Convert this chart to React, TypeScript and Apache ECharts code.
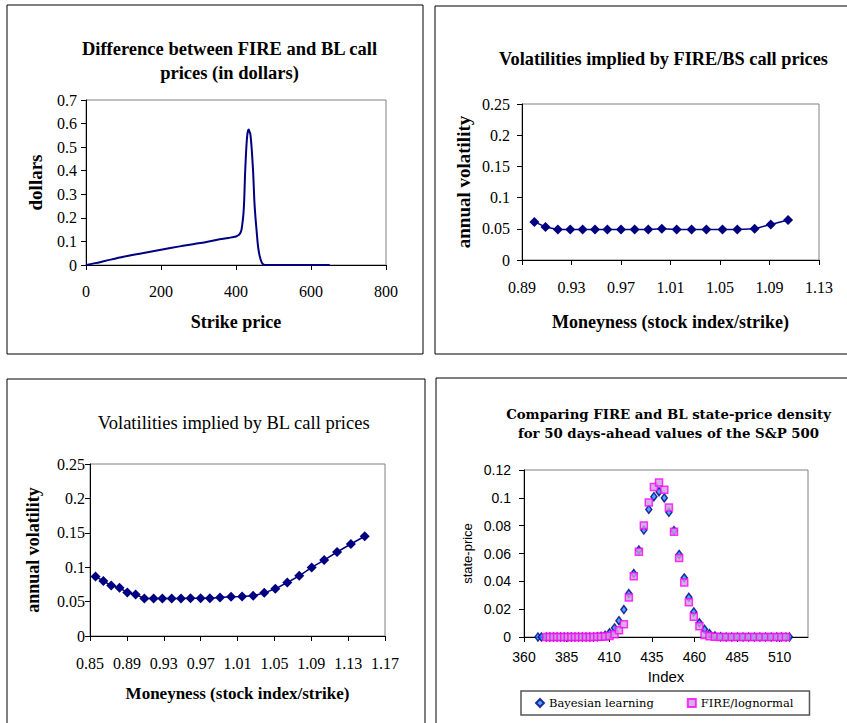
import React, { useEffect, useRef } from "react";
import * as echarts from "echarts";

// Panel 1: difference between FIRE and BL call prices
const strike1 = [0, 25, 50, 100, 150, 200, 250, 300, 350, 380, 400, 405, 410, 414, 417, 420, 422, 424, 426, 428, 430, 432, 434, 436, 438, 440, 442, 444, 446, 449, 452, 455, 458, 461, 464, 467, 470, 474, 478, 500, 550, 600, 650];
const diff1 = [0, 0.008, 0.017, 0.035, 0.05, 0.065, 0.079, 0.092, 0.107, 0.115, 0.121, 0.125, 0.132, 0.145, 0.175, 0.22, 0.28, 0.38, 0.45, 0.51, 0.55, 0.57, 0.575, 0.565, 0.558, 0.53, 0.49, 0.44, 0.385, 0.27, 0.2, 0.145, 0.09, 0.055, 0.033, 0.017, 0.007, 0.002, 0, 0, 0, 0, 0];

// Panel 2: volatilities implied by FIRE/BS call prices
const money2 = [0.9, 0.909, 0.919, 0.929, 0.939, 0.949, 0.959, 0.97, 0.981, 0.992, 1.003, 1.015, 1.027, 1.039, 1.052, 1.064, 1.078, 1.091, 1.105];
const vol2 = [0.061, 0.053, 0.049, 0.049, 0.049, 0.049, 0.049, 0.049, 0.049, 0.049, 0.05, 0.049, 0.049, 0.049, 0.049, 0.049, 0.05, 0.057, 0.064];
const xTicks2 = [0.89, 0.93, 0.97, 1.01, 1.05, 1.09, 1.13];

// Panel 3: volatilities implied by BL call prices
const money3 = [0.856, 0.8645, 0.873, 0.882, 0.8905, 0.8995, 0.909, 0.919, 0.9285, 0.9386, 0.9487, 0.959, 0.97, 0.98, 0.991, 1.003, 1.015, 1.027, 1.039, 1.051, 1.064, 1.077, 1.0905, 1.104, 1.118, 1.133, 1.148];
const vol3 = [0.0866, 0.0798, 0.0734, 0.07, 0.0632, 0.0603, 0.0545, 0.0545, 0.0545, 0.0545, 0.0545, 0.055, 0.055, 0.055, 0.056, 0.0569, 0.0574, 0.0584, 0.0627, 0.0686, 0.0778, 0.0875, 0.0997, 0.1104, 0.1221, 0.1337, 0.145];
const xTicks3 = [0.85, 0.89, 0.93, 0.97, 1.01, 1.05, 1.09, 1.13, 1.17];

// Panel 4: state-price densities
const idxFIRE = [373.1, 375.2, 377.3, 379.4, 381.5, 383.6, 385.7, 387.8, 389.9, 392.0, 394.2, 396.4, 398.6, 400.8, 403.0, 405.2, 407.6, 410.2, 413.1, 415.7, 418.6, 421.5, 424.4, 427.4, 430.3, 433.2, 436.2, 439.2, 442.3, 445.0, 448.0, 451.0, 454.0, 456.7, 459.6, 462.9, 465.9, 468.8, 472.0, 475.3, 478.6, 481.9, 485.2, 488.5, 491.8, 495.1, 498.4, 501.7, 505.0, 508.3, 511.0, 513.7];
const spdFIRE = [0, 0, 0, 0, 0, 0, 0, 0, 0, 0, 0, 0, 0, 0, 0.0001, 0.0002, 0.0004, 0.0008, 0.0019, 0.0048, 0.0091, 0.0284, 0.0437, 0.0613, 0.0802, 0.0966, 0.1078, 0.1111, 0.1058, 0.093, 0.0757, 0.0568, 0.0391, 0.025, 0.0146, 0.0077, 0.0015, 0.0006, 0.0002, 0, 0, 0, 0, 0, 0, 0, 0, 0, 0, 0, 0, 0];
const idxBL = [368.2, 370.2, 373.1, 375.2, 377.3, 379.4, 381.5, 383.6, 385.7, 387.8, 389.9, 392.0, 394.2, 396.4, 398.6, 400.8, 403.0, 405.2, 407.6, 410.2, 413.1, 415.7, 418.6, 421.5, 424.4, 427.4, 430.3, 433.2, 436.2, 439.2, 442.3, 445.0, 448.0, 451.0, 454.0, 456.7, 459.6, 462.9, 465.9, 468.8, 472.0, 475.3, 478.6, 481.9, 485.2, 488.5, 491.8, 495.1, 498.4, 501.7, 505.0, 508.3, 511.0, 513.7, 515.7];
const spdBL = [0, 0, 0, 0, 0, 0, 0, 0, 0, 0, 0, 0, 0, 0, 0, 0, 0.0002, 0.0005, 0.0012, 0.003, 0.0065, 0.0117, 0.0197, 0.0312, 0.0456, 0.0625, 0.0768, 0.0917, 0.1008, 0.1044, 0.0999, 0.0896, 0.0765, 0.0593, 0.0425, 0.0285, 0.018, 0.0102, 0.0055, 0.0025, 0.0008, 0.0002, 0, 0, 0, 0, 0, 0, 0, 0, 0, 0, 0, 0, 0];
const xTicks4 = [360, 385, 410, 435, 460, 485, 510];

const SERIF = "'Liberation Serif', 'Times New Roman', serif";
const SANS = "'Liberation Sans', Arial, sans-serif";
const WIDE_SERIF = "'DejaVu Serif', serif";
const NAVY = "#000080";

const zip = (a: number[], b: number[]) => a.map((v, i) => [v, b[i]]);

const axisCommon = {
  type: "value" as const,
  splitLine: { show: false },
  axisLine: { show: true, onZero: false, lineStyle: { color: "#000", width: 1 } },
  axisTick: { show: true, length: 5, lineStyle: { color: "#000" } },
};

const nameStyle = (size: number, family = SERIF, weight = "bold") => ({
  fontFamily: family,
  fontWeight: weight,
  fontSize: size,
  color: "#000",
});

const labelStyle = (margin: number, family = SERIF, size = 16) => ({
  color: "#000",
  fontFamily: family,
  fontSize: size,
  margin,
});

export default function App() {
  const ref = useRef<HTMLDivElement>(null);
  useEffect(() => {
    if (!ref.current) return;
    const chart = echarts.init(ref.current, null, { renderer: "svg" });
    const gridStyle = { show: true, borderColor: "#808080", borderWidth: 1, backgroundColor: "transparent" };
    const option: any = {
      animation: false,
      backgroundColor: "#fff",
      grid: [
        { left: 86, top: 100, width: 300, height: 165, ...gridStyle },
        { left: 522, top: 104, width: 297, height: 156, ...gridStyle },
        { left: 90, top: 464, width: 295, height: 172, ...gridStyle },
        { left: 524, top: 470, width: 284, height: 167, ...gridStyle },
      ],
      xAxis: [
        {
          ...axisCommon, gridIndex: 0, min: 0, max: 800, interval: 200,
          axisLabel: labelStyle(18),
          name: "Strike price", nameLocation: "middle", nameGap: 48, nameTextStyle: nameStyle(18),
        },
        {
          ...axisCommon, gridIndex: 1, min: 0.89, max: 1.13,
          axisTick: { ...axisCommon.axisTick, customValues: xTicks2 },
          axisLabel: { ...labelStyle(19), customValues: xTicks2, formatter: (v: number) => v.toFixed(2) },
          name: "Moneyness (stock index/strike)", nameLocation: "middle", nameGap: 53, nameTextStyle: nameStyle(18),
        },
        {
          ...axisCommon, gridIndex: 2, min: 0.85, max: 1.17,
          axisTick: { ...axisCommon.axisTick, customValues: xTicks3 },
          axisLabel: { ...labelStyle(19), customValues: xTicks3, formatter: (v: number) => v.toFixed(2) },
          name: "Moneyness (stock index/strike)", nameLocation: "middle", nameGap: 48.5, nameTextStyle: nameStyle(17),
        },
        {
          ...axisCommon, gridIndex: 3, min: 360, max: 526.6,
          axisTick: { ...axisCommon.axisTick, customValues: xTicks4 },
          axisLabel: { ...labelStyle(13, SANS, 14), customValues: xTicks4, formatter: (v: number) => String(Math.round(v)) },
          name: "Index", nameLocation: "middle", nameGap: 32, nameTextStyle: nameStyle(15, SANS, "normal"),
        },
      ],
      yAxis: [
        {
          ...axisCommon, gridIndex: 0, min: 0, max: 0.7, interval: 0.1,
          axisLabel: labelStyle(9),
          name: "dollars", nameLocation: "middle", nameGap: 41.5, nameTextStyle: nameStyle(19),
        },
        {
          ...axisCommon, gridIndex: 1, min: 0, max: 0.25, interval: 0.05,
          axisLabel: labelStyle(12),
          name: "annual volatility", nameLocation: "middle", nameGap: 49, nameTextStyle: nameStyle(19),
        },
        {
          ...axisCommon, gridIndex: 2, min: 0, max: 0.25, interval: 0.05,
          axisLabel: labelStyle(5),
          name: "annual volatility", nameLocation: "middle", nameGap: 48, nameTextStyle: nameStyle(18),
        },
        {
          ...axisCommon, gridIndex: 3, min: 0, max: 0.12, interval: 0.02,
          axisLabel: labelStyle(13, SANS, 14),
          name: "state-price", nameLocation: "middle", nameGap: 50, nameTextStyle: nameStyle(13, SANS, "normal"),
        },
      ],
      legend: {
        left: 521, top: 691,
        padding: [6, 16, 6, 14],
        itemGap: 33, itemWidth: 8, itemHeight: 8,
        borderColor: "#555", borderWidth: 1.5,
        textStyle: { fontFamily: WIDE_SERIF, fontSize: 11.5, color: "#000" },
        data: [
          { name: "Bayesian learning", icon: "diamond" },
          { name: "FIRE/lognormal", icon: "rect" },
        ],
      },
      graphic: [
        { type: "rect", shape: { x: 7, y: 5, width: 416, height: 349 }, style: { fill: "none", stroke: "#000", lineWidth: 1 }, silent: true },
        { type: "rect", shape: { x: 435, y: 6, width: 430, height: 348 }, style: { fill: "none", stroke: "#000", lineWidth: 1 }, silent: true },
        { type: "rect", shape: { x: 7, y: 379, width: 418, height: 360 }, style: { fill: "none", stroke: "#000", lineWidth: 1 }, silent: true },
        { type: "rect", shape: { x: 436, y: 378, width: 430, height: 360 }, style: { fill: "none", stroke: "#000", lineWidth: 1 }, silent: true },
        {
          type: "text", x: 229.5, y: 61, silent: true,
          style: { text: "Difference between FIRE and BL call\nprices (in dollars)", align: "center", verticalAlign: "middle", lineHeight: 24, font: `bold 18.5px ${SERIF}`, fill: "#000" },
        },
        {
          type: "text", x: 663.5, y: 59, silent: true,
          style: { text: "Volatilities implied by FIRE/BS call prices", align: "center", verticalAlign: "middle", font: `bold 18.3px ${SERIF}`, fill: "#000" },
        },
        {
          type: "text", x: 233.7, y: 423, silent: true,
          style: { text: "Volatilities implied by BL call prices", align: "center", verticalAlign: "middle", font: `18.5px ${SERIF}`, fill: "#000" },
        },
        {
          type: "text", x: 668.5, y: 423.5, silent: true,
          style: { text: "Comparing FIRE and BL state-price density\nfor 50 days-ahead values of the S&P 500", align: "center", verticalAlign: "middle", lineHeight: 19, font: `bold 13.3px ${WIDE_SERIF}`, fill: "#000" },
        },
      ],
      series: [
        {
          name: "FIRE - BL", type: "line", xAxisIndex: 0, yAxisIndex: 0,
          data: zip(strike1, diff1), showSymbol: false, symbol: "none", smooth: 0.3,
          lineStyle: { color: NAVY, width: 2 },
        },
        {
          name: "FIRE/BS", type: "line", xAxisIndex: 1, yAxisIndex: 1,
          data: zip(money2, vol2), symbol: "diamond", symbolSize: 10,
          itemStyle: { color: NAVY }, lineStyle: { color: NAVY, width: 1.5 },
        },
        {
          name: "BL", type: "line", xAxisIndex: 2, yAxisIndex: 2,
          data: zip(money3, vol3), symbol: "diamond", symbolSize: 10,
          itemStyle: { color: NAVY }, lineStyle: { color: NAVY, width: 1.5 },
        },
        {
          name: "Bayesian learning", type: "scatter", xAxisIndex: 3, yAxisIndex: 3,
          data: zip(idxBL, spdBL), symbol: "diamond", symbolSize: [6, 8],
          itemStyle: { color: "#1E90FF", borderColor: NAVY, borderWidth: 1.5 },
        },
        {
          name: "FIRE/lognormal", type: "scatter", xAxisIndex: 3, yAxisIndex: 3,
          data: zip(idxFIRE, spdFIRE), symbol: "rect", symbolSize: 7,
          itemStyle: { color: "#C8A0DC", borderColor: "#FF00FF", borderWidth: 1.5 },
        },
      ],
    };
    chart.setOption(option);
    return () => chart.dispose();
  }, []);
  return (
    <div
      ref={ref}
      style={{ position: "fixed", left: 0, top: 0, width: 847, height: 723, background: "#fff" }}
    />
  );
}
